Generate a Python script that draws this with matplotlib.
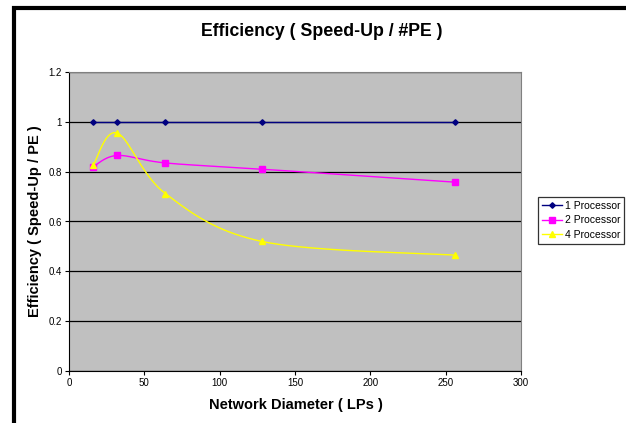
import numpy as np
import matplotlib
matplotlib.use("Agg")
import matplotlib.pyplot as plt
from matplotlib.patches import Rectangle

plt.rcParams['font.family'] = ['Liberation Sans', 'DejaVu Sans']

x_lps = [16, 32, 64, 128, 256]
eff_1 = [1.0, 1.0, 1.0, 1.0, 1.0]
eff_2 = [0.82, 0.865, 0.835, 0.81, 0.758]
eff_4 = [0.825, 0.955, 0.712, 0.52, 0.465]
series_names = ["1 Processor", "2 Processor", "4 Processor"]
yticks = [0, 0.2, 0.4, 0.6, 0.8, 1.0, 1.2]
ytick_labels = ["0", "0.2", "0.4", "0.6", "0.8", "1", "1.2"]
xticks = [0, 50, 100, 150, 200, 250, 300]


def excel_smooth(xs, ys, n=40):
    xs = np.asarray(xs, float)
    ys = np.asarray(ys, float)
    P = np.column_stack([xs, ys])
    pts = [P[0]] + list(P) + [P[-1]]
    out = []
    t = np.linspace(0, 1, n)[:, None]
    for i in range(1, len(pts) - 2):
        p0, p1, p2, p3 = pts[i - 1], pts[i], pts[i + 1], pts[i + 2]
        c1 = p1 + (p2 - p0) / 6.0
        c2 = p2 - (p3 - p1) / 6.0
        seg = ((1 - t) ** 3) * p1 + 3 * ((1 - t) ** 2) * t * c1 + 3 * (1 - t) * t ** 2 * c2 + t ** 3 * p2
        out.append(seg if i == 1 else seg[1:])
    arr = np.vstack(out)
    return arr[:, 0], arr[:, 1]


fig = plt.figure(figsize=(6.26, 4.23), dpi=100)
fig.patch.set_facecolor("white")

# figure border (left and top visible)
fig.patches.append(Rectangle((13.5 / 626, -0.2), 1.5, (423 - 8.5) / 423 + 0.2,
                             transform=fig.transFigure, fill=False,
                             edgecolor="black", linewidth=3, clip_on=False))

ax = fig.add_axes([69 / 626, (423 - 371) / 423, (521 - 69) / 626, (371 - 72) / 423])
ax.set_facecolor("#C0C0C0")

styles = [
    dict(color="#000080", marker="D", ms=2.8),
    dict(color="#FF00FF", marker="s", ms=4.0),
    dict(color="#FFFF00", marker="^", ms=4.5),
]
for ys, name, st in zip([eff_1, eff_2, eff_4], series_names, styles):
    sx, sy = excel_smooth(x_lps, ys)
    ax.plot(sx, sy, color=st["color"], lw=1.0, zorder=3)
    ax.plot(x_lps, ys, linestyle="none", marker=st["marker"], ms=st["ms"],
            color=st["color"], markeredgecolor=st["color"], zorder=4)
    ax.plot([], [], color=st["color"], marker=st["marker"], ms=st["ms"], lw=1.0, label=name)

ax.set_xlim(0, 300)
ax.set_ylim(0, 1.2)
ax.set_xticks(xticks)
ax.set_xticklabels([str(v) for v in xticks])
ax.set_yticks(yticks)
ax.set_yticklabels(ytick_labels)
ax.tick_params(labelsize=7.0, length=3, width=0.8, direction="out", pad=2)
ax.yaxis.grid(True, color="black", lw=0.9)
ax.set_axisbelow(True)
for s in ["top", "right"]:
    ax.spines[s].set_color("#808080")
    ax.spines[s].set_linewidth(0.8)
for s in ["left", "bottom"]:
    ax.spines[s].set_color("black")
    ax.spines[s].set_linewidth(0.8)

fig.text(322 / 626, 1 - 32 / 423, "Efficiency ( Speed-Up / #PE )", ha="center", va="center",
         fontsize=12.8, fontweight="bold")
fig.text(296 / 626, 1 - 405 / 423, "Network Diameter ( LPs )", ha="center", va="center",
         fontsize=10.5, fontweight="bold")
fig.text(35 / 626, 1 - 221 / 423, "Efficiency ( Speed-Up / PE )", ha="center", va="center",
         rotation=90, fontsize=10.5, fontweight="bold")

leg = fig.legend(loc="upper left", bbox_to_anchor=(538 / 626, 1 - 197 / 423),
                 fontsize=7.5, frameon=True, fancybox=False, edgecolor="black",
                 borderpad=0.35, labelspacing=0.45, handlelength=2.0, handletextpad=0.2,
                 borderaxespad=0)
leg.get_frame().set_linewidth(0.9)

fig.savefig("out.png", dpi=100)
